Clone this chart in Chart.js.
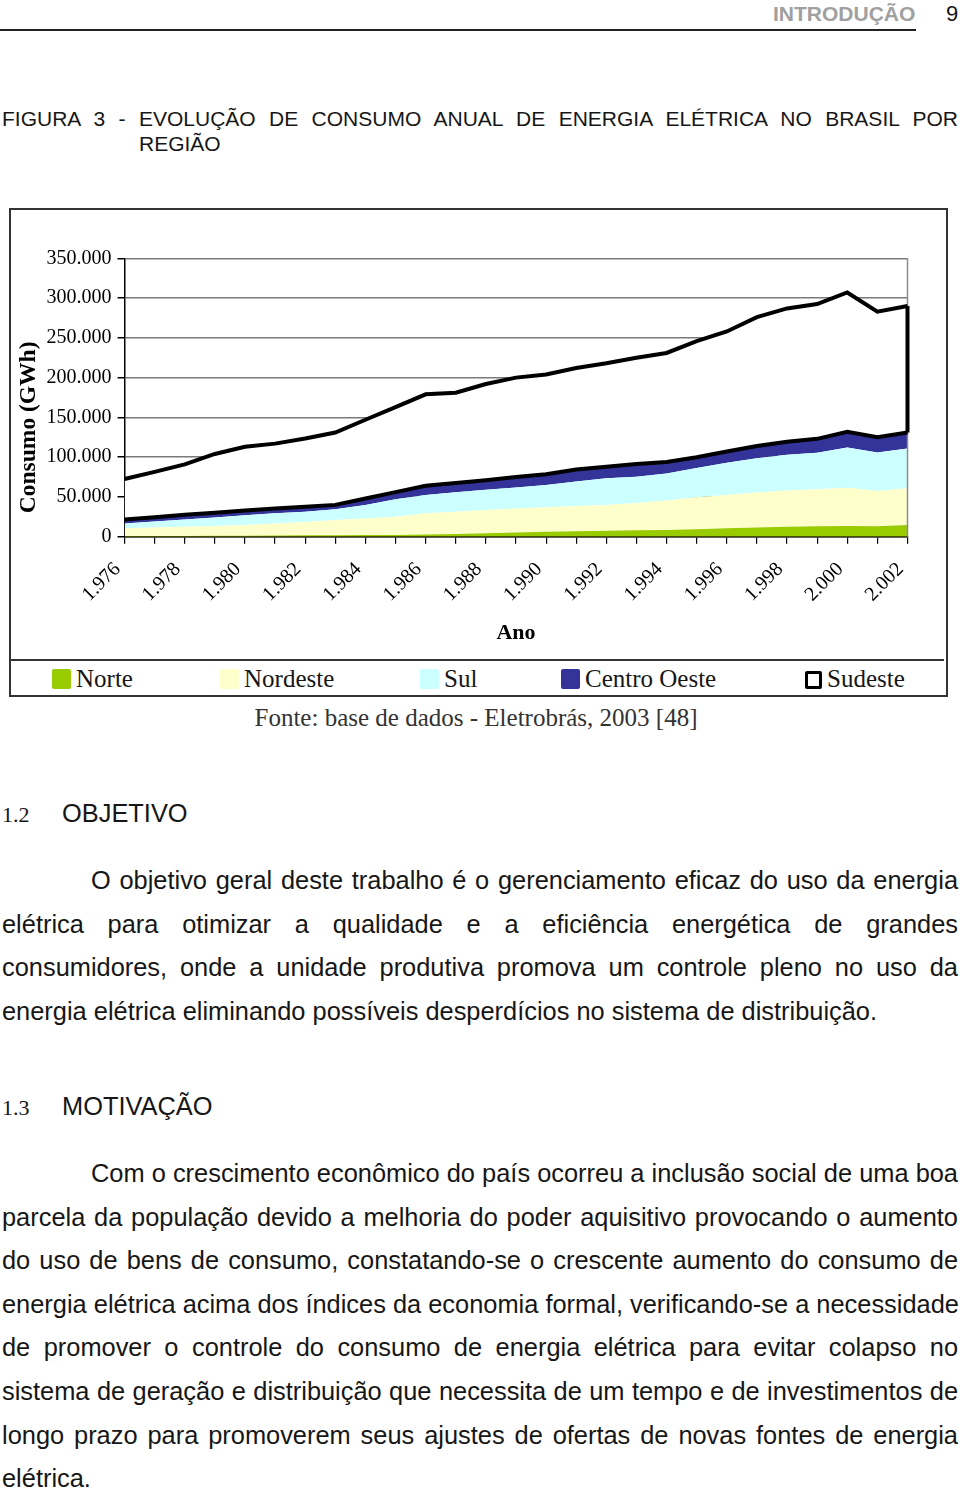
<!DOCTYPE html>
<html lang="pt-BR">
<head>
<meta charset="utf-8">
<script src="https://cdn.jsdelivr.net/npm/chart.js@4.4.1/dist/chart.umd.min.js"></script>
<style>
  body { margin: 0; width: 960px; height: 1491px; position: relative; background: #fff;
         font-family: "Liberation Sans", Arial, Helvetica, sans-serif; color: #161616; overflow: hidden; }
  .abs { position: absolute; }
  .hdr { top: 1px; left: 773px; font-size: 21px; line-height: 26px; font-weight: bold; color: #a0a0a0; }
  .pg { top: 1px; left: 946px; font-size: 22px; line-height: 26px; }
  .rule { top: 29px; left: 0; width: 916px; height: 2px; background: #222; }
  .cap { left: 2px; width: 956px; font-size: 21px; line-height: 25px; white-space: nowrap; }
  .just { text-align: justify; text-align-last: justify; }
  .box { left: 9px; top: 208px; width: 935px; height: 485px; border: 2px solid #333; }
  .wrap { left: 10px; top: 209px; width: 935px; height: 450px; }
  .legend { left: 9px; top: 659px; width: 935px; height: 34px; border-top: 2px solid #333;
            font-family: "Liberation Serif", "Times New Roman", serif; font-size: 25px; }
  .item { position: absolute; top: 0; height: 34px; line-height: 36px; white-space: nowrap; }
  .sw { display: inline-block; width: 19px; height: 20px; vertical-align: -2px; margin-right: 5px; box-sizing: border-box; border-radius: 2px; }
  .fonte { top: 703px; left: 0; width: 952px; text-align: center; font-family: "Liberation Serif", "Times New Roman", serif;
           font-size: 25px; line-height: 30px; color: #333; }
  .sec { left: 2px; font-size: 25.4px; line-height: 30px; }
  .sec .num { font-family: "Liberation Serif", "Times New Roman", serif; font-size: 22px; display: inline-block; width: 60px; }
  .para { left: 2px; width: 956px; font-size: 25.4px; line-height: 43.6px; }
  .para div { white-space: nowrap; }
  .para .ind { padding-left: 89px; }
</style>
</head>
<body>
<div class="abs hdr">INTRODUÇÃO</div>
<div class="abs pg">9</div>
<div class="abs rule"></div>

<div class="abs cap just" style="top:106px">FIGURA 3 - EVOLUÇÃO DE CONSUMO ANUAL DE ENERGIA ELÉTRICA NO BRASIL POR</div>
<div class="abs cap" style="top:131px; left:139px; width:auto">REGIÃO</div>

<div class="abs box"></div>
<div class="abs wrap"><canvas id="consumoChart"></canvas></div>
<div class="abs legend" id="legenda"></div>
<div class="abs fonte">Fonte: base de dados - Eletrobrás, 2003 [48]</div>

<div class="abs sec" style="top:798px"><span class="num">1.2</span>OBJETIVO</div>
<div class="abs para" style="top:859px">
  <div class="just ind">O objetivo geral deste trabalho é o gerenciamento eficaz do uso da energia</div>
  <div class="just">elétrica para otimizar a qualidade e a eficiência energética de grandes</div>
  <div class="just">consumidores, onde a unidade produtiva promova um controle pleno no uso da</div>
  <div>energia elétrica eliminando possíveis desperdícios no sistema de distribuição.</div>
</div>

<div class="abs sec" style="top:1091px"><span class="num">1.3</span>MOTIVAÇÃO</div>
<div class="abs para" style="top:1152px">
  <div class="just ind">Com o crescimento econômico do país ocorreu a inclusão social de uma boa</div>
  <div class="just">parcela da população devido a melhoria do poder aquisitivo provocando o aumento</div>
  <div class="just">do uso de bens de consumo, constatando-se o crescente aumento do consumo de</div>
  <div class="just">energia elétrica acima dos índices da economia formal, verificando-se a necessidade</div>
  <div class="just">de promover o controle do consumo de energia elétrica para evitar colapso no</div>
  <div class="just">sistema de geração e distribuição que necessita de um tempo e de investimentos de</div>
  <div class="just">longo prazo para promoverem seus ajustes de ofertas de novas fontes de energia</div>
  <div>elétrica.</div>
</div>

<script>
// Anos (categorias) e consumo por região, em GWh
const anos = ['1.976', '1.977', '1.978', '1.979', '1.980', '1.981', '1.982', '1.983', '1.984',
              '1.985', '1.986', '1.987', '1.988', '1.989', '1.990', '1.991', '1.992', '1.993',
              '1.994', '1.995', '1.996', '1.997', '1.998', '1.999', '2.000', '2.001', '2.002'];

const norte = [800, 900, 1000, 1100, 1300, 1500, 1700, 1900, 2000, 2200, 2800, 3500, 4200, 5300,
               6300, 7000, 7500, 8000, 8400, 9300, 10500, 11500, 12600, 13000, 13400, 13200, 14700];
const nordeste = [9700, 10600, 11500, 12400, 13400, 15000, 16800, 19100, 21000, 22800, 26700, 28000, 29300, 30200,
                  30700, 31500, 32500, 34500, 37100, 40200, 42000, 44000, 45400, 46500, 48100, 44300, 46300];
const sul = [6000, 7500, 9000, 10500, 12300, 13000, 13000, 13500, 17000, 22000, 23000, 24500, 25500, 26500,
             28000, 31000, 33500, 33000, 34000, 37000, 40500, 43000, 45000, 46000, 50500, 48500, 50000];
const centroOeste = [5000, 5500, 6000, 6000, 6000, 6000, 6000, 5500, 8000, 9000, 11500, 11500, 12000, 13000,
                     13500, 15000, 14500, 16000, 14500, 13500, 14000, 15500, 16500, 17500, 20000, 19000, 20000];
const sudeste = [51000, 57000, 63500, 74000, 80000, 81500, 86000, 91000, 99000, 107000, 115000, 113500, 121000, 125000,
                 125500, 127500, 130000, 133500, 137000, 146000, 151000, 162000, 167500, 169500, 175000, 158000, 159000];

const regioes = ['Norte', 'Nordeste', 'Sul', 'Centro Oeste', 'Sudeste'];
const cores = ['#99cc00', '#ffffcc', '#ccffff', '#333399', '#ffffff'];
const series = [norte, nordeste, sul, centroOeste, sudeste];

const serif = '"Liberation Serif", "Times New Roman", serif';

function milhar(v) {
    return String(v).replace(/\B(?=(\d{3})+(?!\d))/g, '.');
}

// borda direita da área de plotagem e lado direito da área do Sudeste
const moldura = {
    id: 'moldura',
    beforeDatasetsDraw(chart) {
        const { ctx, chartArea } = chart;
        ctx.save();
        ctx.strokeStyle = '#8c8c8c';
        ctx.lineWidth = 1.5;
        ctx.beginPath();
        ctx.moveTo(chartArea.right, chartArea.top);
        ctx.lineTo(chartArea.right, chartArea.bottom);
        ctx.stroke();
        ctx.restore();
    },
    afterDatasetsDraw(chart) {
        const { ctx } = chart;
        const last = anos.length - 1;
        const base = chart.getDatasetMeta(3).data[last];
        const topo = chart.getDatasetMeta(4).data[last];
        ctx.save();
        ctx.strokeStyle = '#000';
        ctx.lineWidth = 4;
        ctx.beginPath();
        ctx.moveTo(topo.x, base.y);
        ctx.lineTo(topo.x, topo.y);
        ctx.stroke();
        ctx.restore();
    }
};

const ctx = document.getElementById('consumoChart').getContext('2d');

const myChart = new Chart(ctx, {
    type: 'line',
    data: {
        labels: anos,
        datasets: series.map((valores, i) => ({
            label: regioes[i],
            data: valores,
            backgroundColor: cores[i],
            borderColor: i >= 3 ? '#000' : cores[i],
            borderWidth: i >= 3 ? 4 : 0,
            fill: i === 0 ? 'origin' : '-1',
            pointRadius: 0,
            tension: 0
        }))
    },
    options: {
        responsive: true,
        maintainAspectRatio: false,
        animation: false,
        layout: { padding: { top: 49.3, right: 37.5, left: 0, bottom: 0 } },
        plugins: {
            legend: { display: false },
            tooltip: { enabled: false },
            filler: { drawTime: 'beforeDatasetsDraw' }
        },
        scales: {
            x: {
                afterFit: (s) => { s.height = 122.3; },
                grid: { drawOnChartArea: false, color: '#000', tickLength: 7, lineWidth: 1.2 },
                border: { color: '#000', width: 1.5 },
                ticks: {
                    autoSkip: false,
                    minRotation: 45,
                    maxRotation: 45,
                    padding: 14,
                    labelOffset: -7,
                    color: '#000',
                    font: { family: serif, size: 20 },
                    callback: (v, i) => (i % 2 === 0 ? anos[i] : '')
                },
                title: {
                    display: true,
                    text: 'Ano',
                    color: '#000',
                    font: { family: serif, size: 22, weight: 'bold' },
                    padding: { top: 0, bottom: 12 }
                }
            },
            y: {
                stacked: true,
                min: 0,
                max: 350000,
                afterFit: (s) => { s.width = 114.5; },
                grid: { color: '#7a7a7a', lineWidth: 1.5, tickColor: '#000', tickLength: 7 },
                border: { color: '#000', width: 1.5 },
                ticks: {
                    stepSize: 50000,
                    padding: 6,
                    color: '#000',
                    font: { family: serif, size: 20 },
                    callback: (v) => milhar(v)
                },
                title: {
                    display: true,
                    text: '\u2003Consumo (GWh)',
                    align: 'start',
                    color: '#000',
                    font: { family: serif, size: 23.5, weight: 'bold' },
                    padding: { top: 5, bottom: 0 }
                }
            }
        }
    },
    plugins: [moldura]
});

// legenda montada a partir das séries
const legendaX = [43, 211, 411, 552, 796];
const legenda = document.getElementById('legenda');
regioes.forEach((nome, i) => {
    const item = document.createElement('div');
    item.className = 'item';
    item.style.left = legendaX[i] + 'px';
    const sw = document.createElement('span');
    sw.className = 'sw';
    sw.style.background = cores[i];
    if (i === 4) { sw.style.border = '3px solid #000'; sw.style.width = '17px'; sw.style.height = '18px'; }
    item.appendChild(sw);
    item.appendChild(document.createTextNode(nome));
    legenda.appendChild(item);
});
</script>
</body>
</html>
